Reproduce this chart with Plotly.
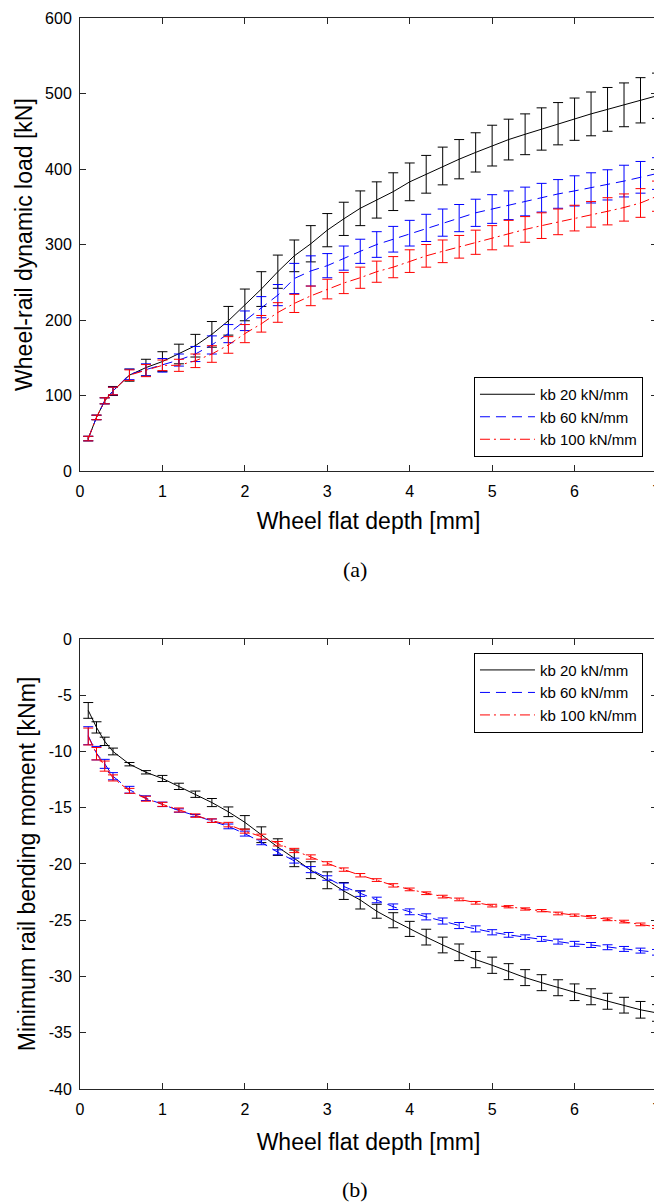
import plotly.graph_objects as go

# Wheel flat depth [mm]
depth = [0.1, 0.2, 0.3, 0.4, 0.6, 0.8, 1.0, 1.2, 1.4, 1.6, 1.8, 2.0, 2.2, 2.4, 2.6, 2.8,
         3.0, 3.2, 3.4, 3.6, 3.8, 4.0, 4.2, 4.4, 4.6, 4.8, 5.0, 5.2, 5.4, 5.6, 5.8,
         6.0, 6.2, 6.4, 6.6, 6.8, 7.0]

series_names = ["kb 20 kN/mm", "kb 60 kN/mm", "kb 100 kN/mm"]

# (a) Wheel-rail dynamic load [kN] : mean and error half-width
load_kb20 = [43, 71, 93, 106, 127, 137, 145, 155, 166, 181, 199, 220, 241, 264, 285, 301,
             319, 334, 348, 359, 370, 383, 393, 404, 413, 422, 431, 439, 446, 453, 460,
             466, 473, 479, 485, 491, 497]
load_kb20_err = [3, 3, 4, 6, 8, 11, 13, 13, 15, 17, 19, 21, 23, 22, 21, 24,
                 22, 22, 23, 24, 25, 25, 25, 25, 26, 26, 27, 27, 27, 28, 28,
                 28, 29, 29, 29, 30, 30]
load_kb60 = [43, 71, 93, 106, 128, 134, 140, 147, 155, 167, 182, 199, 217, 233, 255, 265,
             272, 282, 291, 300, 307, 315, 322, 329, 335, 342, 347, 352, 357, 362, 367,
             371, 375, 379, 384, 389, 394]
load_kb60_err = [3, 3, 4, 5, 7, 8, 9, 8, 10, 12, 12, 13, 14, 14, 20, 20,
                 16, 16, 16, 17, 17, 17, 18, 18, 18, 18, 19, 19, 19, 19, 19,
                 20, 20, 20, 21, 21, 21]
load_kb100 = [43, 71, 93, 106, 127, 133, 140, 140, 146, 155, 167, 182, 195, 210, 222, 232,
              241, 249, 256, 264, 270, 278, 285, 291, 297, 303, 309, 315, 320, 325, 330,
              335, 340, 344, 349, 355, 364]
load_kb100_err = [3, 3, 4, 5, 7, 8, 7, 8, 9, 11, 11, 12, 11, 13, 12, 13,
                  13, 14, 14, 14, 14, 15, 15, 15, 15, 16, 16, 17, 17, 17, 17,
                  17, 17, 18, 18, 19, 20]

# (b) Minimum rail bending moment [kNm] : mean and error half-width
mom_kb20 = [-6.35, -7.86, -9.1, -10.0, -11.13, -11.85, -12.4, -13.1, -13.8, -14.54, -15.36,
            -16.3, -17.4, -18.5, -19.5, -20.55, -21.45, -22.4, -23.2, -24.2, -25.0, -25.77,
            -26.5, -27.2, -27.85, -28.5, -29.0, -29.57, -30.1, -30.55, -31.0, -31.4, -31.8,
            -32.2, -32.55, -32.96, -33.24]
mom_kb20_err = [0.7, 0.5, 0.37, 0.3, 0.15, 0.15, 0.27, 0.28, 0.28, 0.36, 0.43,
                0.6, 0.7, 0.74, 0.74, 0.75, 0.75, 0.75, 0.8, 0.62, 0.67, 0.67,
                0.7, 0.7, 0.74, 0.72, 0.72, 0.71, 0.71, 0.71, 0.71, 0.74, 0.71,
                0.71, 0.7, 0.74, 0.74]
mom_kb60 = [-8.6, -10.15, -11.1, -12.2, -13.4, -14.15, -14.7, -15.25, -15.7, -16.15, -16.66,
            -17.3, -18.07, -18.96, -19.7, -20.5, -21.25, -22.0, -22.63, -23.2, -23.8, -24.25,
            -24.7, -25.07, -25.47, -25.77, -26.07, -26.3, -26.5, -26.66, -26.9, -27.1, -27.2,
            -27.4, -27.55, -27.7, -27.85]
mom_kb60_err = [0.8, 0.6, 0.4, 0.32, 0.3, 0.21, 0.2, 0.15, 0.1, 0.15, 0.21,
                0.22, 0.22, 0.22, 0.22, 0.27, 0.2, 0.3, 0.25, 0.25, 0.25, 0.26,
                0.27, 0.27, 0.27, 0.27, 0.23, 0.21, 0.2, 0.22, 0.22, 0.22, 0.22,
                0.22, 0.22, 0.22, 0.25]
mom_kb100 = [-8.67, -10.2, -11.3, -12.35, -13.5, -14.2, -14.7, -15.2, -15.7, -16.15, -16.5,
             -17.08, -17.57, -18.2, -18.8, -19.38, -19.95, -20.5, -21.0, -21.43, -21.9, -22.26,
             -22.6, -22.9, -23.15, -23.45, -23.7, -23.8, -24.0, -24.15, -24.4, -24.55, -24.7,
             -24.92, -25.12, -25.37, -25.6]
mom_kb100_err = [0.75, 0.55, 0.45, 0.27, 0.22, 0.22, 0.18, 0.18, 0.15, 0.16, 0.2,
                 0.18, 0.22, 0.2, 0.19, 0.19, 0.15, 0.15, 0.15, 0.12, 0.15, 0.12,
                 0.12, 0.12, 0.12, 0.12, 0.12, 0.1, 0.1, 0.1, 0.12, 0.1, 0.12,
                 0.12, 0.12, 0.12, 0.13]

x_ticks = [0, 1, 2, 3, 4, 5, 6, 7]
load_ticks = [0, 100, 200, 300, 400, 500, 600]
mom_ticks = [0, -5, -10, -15, -20, -25, -30, -35, -40]
mom_ticktext = ["0", "-5", "-10", "-15", "-20", "-25", "-30", "-35", "-40"]

colors = ["#000000", "#0000FF", "#FF0000"]
dashes = ["solid", "10px,6px", "10px,4px,2px,4px"]

FONT = "Liberation Sans, Arial, sans-serif"

fig = go.Figure()

top = [(load_kb20, load_kb20_err), (load_kb60, load_kb60_err), (load_kb100, load_kb100_err)]
bot = [(mom_kb20, mom_kb20_err), (mom_kb60, mom_kb60_err), (mom_kb100, mom_kb100_err)]

for i, (y, e) in enumerate(top):
    fig.add_trace(go.Scatter(
        x=depth, y=y, mode="lines", name=series_names[i],
        line=dict(color=colors[i], width=1, dash=dashes[i]),
        error_y=dict(type="data", array=e, visible=True, color=colors[i], thickness=1, width=5),
        xaxis="x", yaxis="y", legend="legend"))

for i, (y, e) in enumerate(bot):
    fig.add_trace(go.Scatter(
        x=depth, y=y, mode="lines", name=series_names[i],
        line=dict(color=colors[i], width=1, dash=dashes[i]),
        error_y=dict(type="data", array=e, visible=True, color=colors[i], thickness=1, width=5),
        xaxis="x2", yaxis="y2", legend="legend2"))

axis_common = dict(
    showline=True, linecolor="#262626", linewidth=1, mirror="ticks",
    ticks="inside", ticklen=6, tickcolor="#262626", showgrid=False, zeroline=False,
    automargin=False,
    tickfont=dict(family=FONT, size=16, color="#000000"),
)

# The page body has an 8px margin, so the figure is sized to fit the window from there.
fig.update_layout(
    width=654, height=1196,
    margin=dict(l=72, r=5, t=10, b=115, autoexpand=False),
    paper_bgcolor="white", plot_bgcolor="white",
    font=dict(family=FONT, color="#000000"),
    xaxis=dict(domain=[0, 1], anchor="y", range=[0, 7], tickvals=x_ticks,
               ticklabelstandoff=6,
               title=dict(text="Wheel flat depth [mm]", font=dict(family=FONT, size=23), standoff=13),
               **axis_common),
    yaxis=dict(domain=[0.577, 1.0], anchor="x", range=[0, 600], tickvals=load_ticks,
               ticklabelstandoff=4,
               title=dict(text="Wheel-rail dynamic load [kN]", font=dict(family=FONT, size=23), standoff=6),
               **axis_common),
    xaxis2=dict(domain=[0, 1], anchor="y2", range=[0, 7], tickvals=x_ticks,
                ticklabelstandoff=6,
                title=dict(text="Wheel flat depth [mm]", font=dict(family=FONT, size=23), standoff=16),
                **axis_common),
    yaxis2=dict(domain=[0, 0.4202], anchor="x2", range=[-40, 0], tickvals=mom_ticks,
                ticktext=mom_ticktext, ticklabelstandoff=4,
                title=dict(text="Minimum rail bending moment [kNm]", font=dict(family=FONT, size=23), standoff=6),
                **axis_common),
    legend=dict(x=0.9757, y=0.5901, xanchor="right", yanchor="bottom",
                bgcolor="white", bordercolor="#000000", borderwidth=1,
                font=dict(family=FONT, size=15), itemwidth=55, tracegroupgap=0),
    legend2=dict(x=0.9757, y=0.4074, xanchor="right", yanchor="top",
                 bgcolor="white", bordercolor="#000000", borderwidth=1,
                 font=dict(family=FONT, size=15), itemwidth=55, tracegroupgap=0),
    showlegend=True,
    annotations=[
        dict(text="(a)", x=0.4766, y=0.4855, xref="paper", yref="paper", showarrow=False,
             yanchor="middle",
             font=dict(family="Liberation Serif, Times New Roman, serif", size=22)),
        dict(text="(b)", x=0.4766, y=-0.0943, xref="paper", yref="paper", showarrow=False,
             yanchor="middle",
             font=dict(family="Liberation Serif, Times New Roman, serif", size=22)),
    ],
)

fig.write_html("out.html")
